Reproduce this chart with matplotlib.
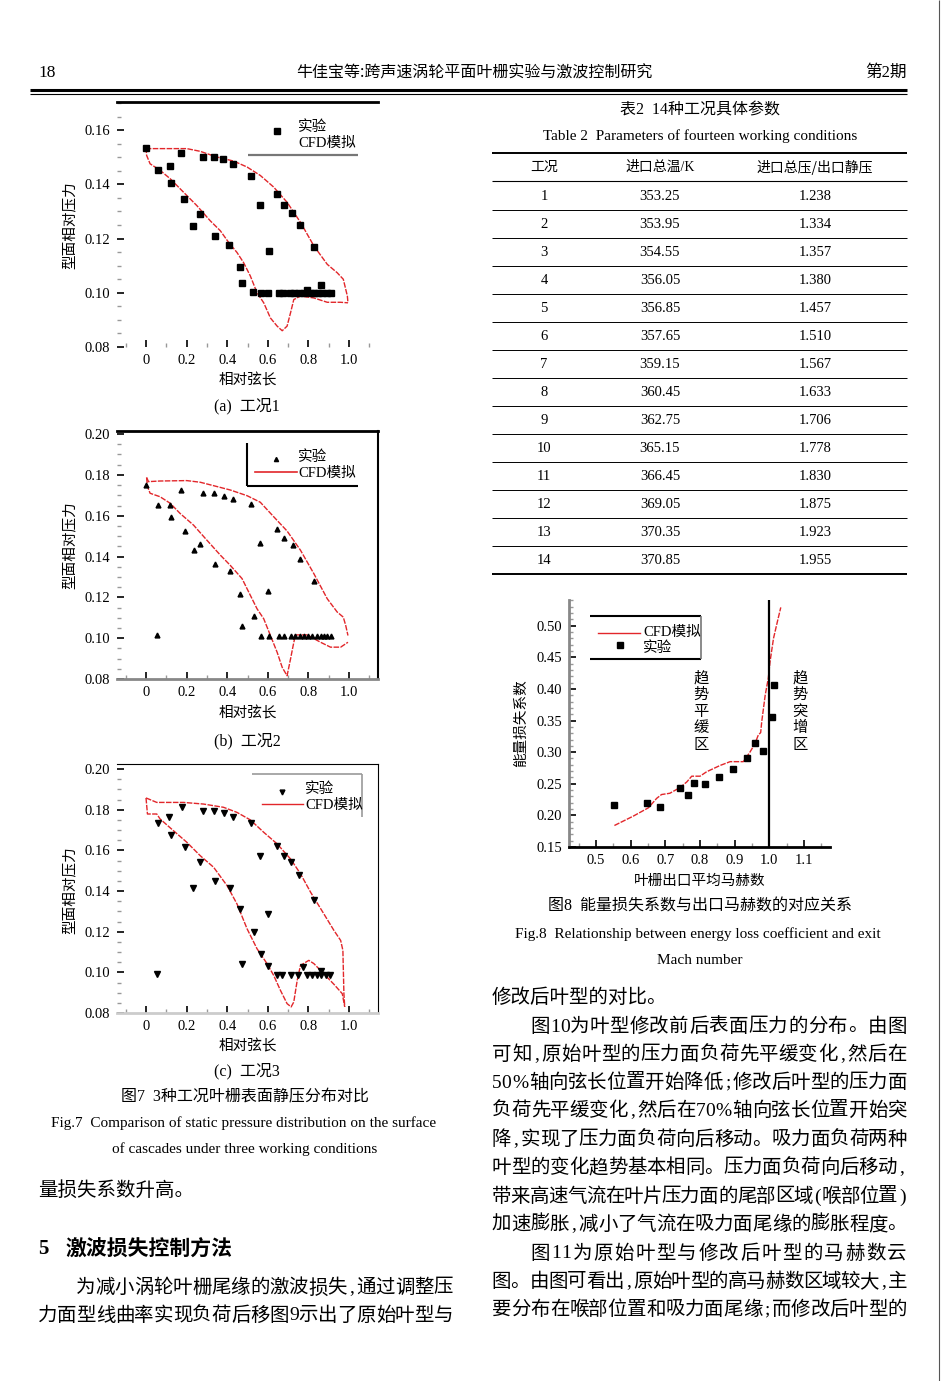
import matplotlib
matplotlib.use('Agg')
import matplotlib.pyplot as plt
from matplotlib.ticker import MultipleLocator

W, H = 941, 1381
SERIF = ['Liberation Serif', 'Noto Sans CJK SC']
CJK = ['Noto Sans CJK SC', 'Liberation Serif']
plt.rcParams['font.family'] = SERIF

# ---- 图7 (a) 工况1 ----
a_exp_x = [0.000, 0.061, 0.119, 0.124, 0.171, 0.189, 0.231, 0.267, 0.283, 0.333, 0.338, 0.379,
           0.409, 0.427, 0.465, 0.473, 0.516, 0.529, 0.560, 0.605, 0.643, 0.679, 0.718, 0.758,
           0.830, 0.863, 0.794,
           0.568, 0.600, 0.656, 0.675, 0.708, 0.731, 0.755, 0.778, 0.811, 0.827, 0.847, 0.868, 0.890, 0.909]
a_exp_y = [0.1536, 0.1452, 0.1468, 0.1406, 0.1517, 0.1346, 0.1245, 0.1291, 0.1502, 0.1502, 0.1210, 0.1492,
           0.1177, 0.1476, 0.1094, 0.1036, 0.1432, 0.1004, 0.1324, 0.1153, 0.1363, 0.1324, 0.1294, 0.1250,
           0.1168, 0.1030, 0.1012,
           0.0998, 0.0998, 0.0998, 0.0998, 0.0998, 0.0998, 0.0998, 0.0998, 0.0998, 0.0998, 0.0998, 0.0998, 0.0998, 0.0998]
a_up_x = [0.000, 0.012, 0.201, 0.267, 0.349, 0.432, 0.498, 0.563, 0.629, 0.695, 0.761, 0.827, 0.893,
          0.942, 0.972, 0.984, 0.992, 0.995]
a_up_y = [0.1536, 0.1532, 0.1532, 0.1522, 0.1501, 0.1486, 0.1464, 0.1433, 0.1390, 0.1334, 0.1260, 0.1173,
          0.1105, 0.1074, 0.1050, 0.1013, 0.0988, 0.0963]
a_lo_x = [0.000, 0.003, 0.020, 0.069, 0.119, 0.185, 0.250, 0.316, 0.366, 0.407, 0.448, 0.481, 0.514,
          0.547, 0.580, 0.613, 0.646, 0.671, 0.695, 0.712, 0.728, 0.761, 0.827, 0.893, 0.959, 0.995]
a_lo_y = [0.1536, 0.1507, 0.1476, 0.1452, 0.1421, 0.1371, 0.1322, 0.1266, 0.1229, 0.1186, 0.1149, 0.1111,
          0.1062, 0.1000, 0.0963, 0.0907, 0.0877, 0.0860, 0.0877, 0.0926, 0.0975, 0.0988, 0.0981, 0.0965,
          0.0965, 0.0963]
a_yticks = [0.08, 0.10, 0.12, 0.14, 0.16]

# ---- 图7 (b) 工况2 ----
b_exp_x = [0.000, 0.058, 0.054, 0.119, 0.125, 0.173, 0.191, 0.234, 0.267, 0.283, 0.333, 0.341, 0.382,
           0.415, 0.427, 0.465, 0.473, 0.517, 0.534, 0.560, 0.601, 0.643, 0.682, 0.722, 0.758, 0.830,
           0.568, 0.605, 0.654, 0.679, 0.712, 0.736, 0.758, 0.778, 0.798, 0.819, 0.840, 0.860, 0.876, 0.893, 0.909]
b_exp_y = [0.1748, 0.1651, 0.1018, 0.1651, 0.1592, 0.1726, 0.1525, 0.1434, 0.1461, 0.1710, 0.1713, 0.1361,
           0.1698, 0.1330, 0.1682, 0.1218, 0.1062, 0.1657, 0.1107, 0.1467, 0.1230, 0.1533, 0.1489, 0.1456,
           0.1390, 0.1279,
           0.1013, 0.1013, 0.1013, 0.1013, 0.1013, 0.1013, 0.1013, 0.1013, 0.1013, 0.1013, 0.1013, 0.1013,
           0.1013, 0.1013, 0.1013]
b_up_x = [0.003, 0.012, 0.069, 0.201, 0.267, 0.349, 0.415, 0.498, 0.563, 0.629, 0.695, 0.761, 0.827,
          0.893, 0.942, 0.972, 0.984, 0.995]
b_up_y = [0.1787, 0.1767, 0.1770, 0.1772, 0.1764, 0.1743, 0.1726, 0.1698, 0.1666, 0.1595, 0.1525, 0.1431,
          0.1316, 0.1193, 0.1128, 0.1103, 0.1062, 0.1013]
b_lo_x = [0.003, 0.007, 0.020, 0.069, 0.119, 0.168, 0.234, 0.300, 0.366, 0.415, 0.473, 0.514, 0.547,
          0.580, 0.613, 0.646, 0.671, 0.695, 0.712, 0.725, 0.736, 0.794, 0.860, 0.909, 0.959, 0.995]
b_lo_y = [0.1787, 0.1743, 0.1710, 0.1693, 0.1661, 0.1611, 0.1554, 0.1480, 0.1407, 0.1357, 0.1292, 0.1210,
          0.1144, 0.1095, 0.1013, 0.0931, 0.0857, 0.0816, 0.0898, 0.0964, 0.1016, 0.1016, 0.0980, 0.0956,
          0.0956, 0.0980]

# ---- 图7 (c) 工况3 ----
c_exp_x = [0.058, 0.056, 0.115, 0.124, 0.175, 0.191, 0.231, 0.267, 0.283, 0.333, 0.338, 0.382, 0.412,
           0.428, 0.465, 0.473, 0.519, 0.530, 0.560, 0.568, 0.600, 0.600, 0.643, 0.679, 0.715, 0.755,
           0.830, 0.773, 0.860,
           0.646, 0.671, 0.712, 0.748, 0.794, 0.819, 0.843, 0.863, 0.885, 0.906]
c_exp_y = [0.1735, 0.0993, 0.1766, 0.1678, 0.1815, 0.1615, 0.1414, 0.1545, 0.1795, 0.1795, 0.1448, 0.1782,
           0.1416, 0.1766, 0.1313, 0.1043, 0.1736, 0.1198, 0.1574, 0.1092, 0.1285, 0.1029, 0.1624, 0.1571,
           0.1542, 0.1481, 0.1357, 0.1026, 0.1007,
           0.0985, 0.0985, 0.0985, 0.0985, 0.0985, 0.0985, 0.0985, 0.0985, 0.0985, 0.0985]
c_up_x = [0.000, 0.053, 0.185, 0.283, 0.382, 0.448, 0.514, 0.580, 0.646, 0.712, 0.761, 0.811, 0.876,
          0.926, 0.959, 0.970, 0.975, 0.979]
c_up_y = [0.1858, 0.1836, 0.1836, 0.1828, 0.1812, 0.1787, 0.1750, 0.1689, 0.1632, 0.1558, 0.1485, 0.1394,
          0.1288, 0.1206, 0.1157, 0.1108, 0.0895, 0.0830]
c_lo_x = [0.000, 0.007, 0.053, 0.069, 0.135, 0.201, 0.267, 0.333, 0.399, 0.448, 0.498, 0.547, 0.596,
          0.629, 0.662, 0.695, 0.715, 0.728, 0.745, 0.761, 0.802, 0.827, 0.876, 0.926, 0.967, 0.979]
c_lo_y = [0.1858, 0.1779, 0.1779, 0.1755, 0.1697, 0.1640, 0.1574, 0.1517, 0.1427, 0.1337, 0.1214, 0.1116,
          0.1043, 0.0985, 0.0912, 0.0846, 0.0830, 0.0854, 0.0961, 0.1034, 0.1059, 0.1043, 0.0993, 0.0941,
          0.0895, 0.0830]
bc_yticks = [0.08, 0.10, 0.12, 0.14, 0.16, 0.18, 0.20]

# ---- 图8 ----
ma_exp = [0.553, 0.646, 0.685, 0.742, 0.766, 0.783, 0.813, 0.856, 0.896, 0.935, 0.960, 0.983, 1.007, 1.013]
loss_exp = [0.217, 0.220, 0.214, 0.244, 0.233, 0.252, 0.250, 0.260, 0.274, 0.290, 0.314, 0.302, 0.356, 0.406]
ma_cfd = [0.553, 0.608, 0.651, 0.675, 0.689, 0.713, 0.742, 0.762, 0.776, 0.800, 0.819, 0.858, 0.887,
          0.925, 0.944, 0.959, 0.968, 0.975, 0.978, 0.983, 0.988, 0.997, 1.002, 1.012, 1.023, 1.033]
loss_cfd = [0.184, 0.199, 0.212, 0.227, 0.233, 0.235, 0.244, 0.253, 0.262, 0.262, 0.269, 0.279, 0.285,
            0.285, 0.300, 0.314, 0.327, 0.331, 0.348, 0.369, 0.390, 0.417, 0.443, 0.480, 0.506, 0.529]

# ---- 表2 ----
cond_no = [str(i) for i in range(1, 15)]
inlet_temp = ['353.25', '353.95', '354.55', '356.05', '356.85', '357.65', '359.15',
              '360.45', '362.75', '365.15', '366.45', '369.05', '370.35', '370.85']
press_ratio = ['1.238', '1.334', '1.357', '1.380', '1.457', '1.510', '1.567',
               '1.633', '1.706', '1.778', '1.830', '1.875', '1.923', '1.955']

RED = '#e2262a'

fig = plt.figure(figsize=(W / 100, H / 100), dpi=100, facecolor='white')


def box(l, t, r, b):
    ax = fig.add_axes([l / W, 1 - b / H, (r - l) / W, (b - t) / H])
    ax.set_facecolor('none')
    return ax


def pressure_panel(ax, ylim, yticks, ex, ey, ux, uy, lx, ly, marker, ms):
    ax.plot(ux, uy, color=RED, lw=1.0, dashes=(4, 1))
    ax.plot(lx, ly, color=RED, lw=1.0, dashes=(4, 1))
    ax.plot(ex, ey, ls='none', marker=marker, ms=ms, color='black', mec='black')
    ax.set_xticks([0, 0.2, 0.4, 0.6, 0.8, 1.0])
    ax.set_xticklabels(['0', '0.2', '0.4', '0.6', '0.8', '1.0'])
    ax.set_yticks(yticks)
    ax.set_yticklabels([f'{v:.2f}' for v in yticks])
    ax.xaxis.set_minor_locator(MultipleLocator(0.1))
    ax.yaxis.set_minor_locator(MultipleLocator(0.005))
    ax.set_xlim(-0.143, 1.143)
    ax.set_ylim(*ylim)
    ax.tick_params(which='major', direction='in', length=5, width=1.2, labelsize=10.5, pad=5)
    ax.tick_params(which='minor', direction='in', length=3, width=1, color='#999999')
    for s in ax.spines.values():
        s.set_visible(False)


# (a)
axa = box(117, 102, 378, 347)
pressure_panel(axa, (0.08, 0.1704), a_yticks, a_exp_x, a_exp_y, a_up_x, a_up_y, a_lo_x, a_lo_y, 's', 4.2)
axa.spines['top'].set_visible(True)
axa.spines['top'].set_linewidth(2)

# (b)
axb = box(117, 431, 378, 679)
pressure_panel(axb, (0.08, 0.2015), bc_yticks, b_exp_x, b_exp_y, b_up_x, b_up_y, b_lo_x, b_lo_y, '^', 3.5)
axb.spines['top'].set_visible(True)
axb.spines['top'].set_linewidth(2)
axb.spines['right'].set_visible(True)
axb.spines['right'].set_linewidth(1.5)
axb.spines['bottom'].set_visible(True)
axb.spines['bottom'].set_color('#888888')
axb.spines['bottom'].set_linewidth(2)

# (c)
axc = box(117, 764, 378, 1013)
pressure_panel(axc, (0.08, 0.2025), bc_yticks, c_exp_x, c_exp_y, c_up_x, c_up_y, c_lo_x, c_lo_y, 'v', 3.8)
axc.spines['top'].set_visible(True)
axc.spines['right'].set_visible(True)
axc.spines['bottom'].set_visible(True)
axc.spines['bottom'].set_color('#cccccc')
axc.spines['bottom'].set_linewidth(2)

# 图8
ax8 = box(569, 600, 830, 847)
ax8.plot(ma_cfd, loss_cfd, color=RED, lw=1.0, dashes=(4, 1))
ax8.plot(ma_exp, loss_exp, ls='none', marker='s', ms=4.5, color='black')
ax8.axvline(1.0, color='black', lw=1.6)
ax8.set_xticks([0.5, 0.6, 0.7, 0.8, 0.9, 1.0, 1.1])
ax8.set_xticklabels(['0.5', '0.6', '0.7', '0.8', '0.9', '1.0', '1.1'])
ax8.set_yticks([0.15, 0.20, 0.25, 0.30, 0.35, 0.40, 0.45, 0.50])
ax8.set_yticklabels(['0.15', '0.20', '0.25', '0.30', '0.35', '0.40', '0.45', '0.50'])
ax8.xaxis.set_minor_locator(MultipleLocator(0.05))
ax8.yaxis.set_minor_locator(MultipleLocator(0.01))
ax8.set_xlim(0.422, 1.175)
ax8.set_ylim(0.15, 0.5407)
ax8.tick_params(which='major', direction='in', length=5, width=1.2, labelsize=10.5, pad=5)
ax8.tick_params(which='minor', direction='in', length=3, width=1, color='#999999')
ax8.spines['top'].set_visible(False)
ax8.spines['right'].set_visible(False)
ax8.spines['left'].set_color('#888888')
ax8.spines['left'].set_linewidth(2)
ax8.spines['bottom'].set_linewidth(2)

# page layer: text, table, legends
page = fig.add_axes([0, 0, 1, 1])
page.set_xlim(0, W)
page.set_ylim(H, 0)
page.axis('off')
page.set_zorder(10)
page.patch.set_visible(False)


def txt(x, y, s, size=11, ha='left', fam=SERIF, **kw):
    page.text(x, y, s, fontsize=size, ha=ha, va='center', family=fam, **kw)


def hline(y, x0, x1, lw=1, color='black'):
    page.plot([x0, x1], [y, y], color=color, lw=lw, solid_capstyle='butt')


def vline(x, y0, y1, lw=1, color='black'):
    page.plot([x, x], [y0, y1], color=color, lw=lw, solid_capstyle='butt')


def weight(c):
    if c == '%':
        return 0.9
    return 0.5 if ord(c) < 128 else 1.0


def body(s, x0, y, x1=None, size=14):
    if x1 is None:
        txt(x0, y, s, size=size)
        return
    w = [weight(c) for c in s]
    step = (x1 - x0) / sum(w)
    pos = x0
    for c, wc in zip(s, w):
        page.text(pos + wc * step / 2, y, c, fontsize=size, ha='center', va='center', family=SERIF)
        pos += wc * step


# header
txt(38, 73, '18', size=12.5)
txt(474, 73, '牛佳宝等:跨声速涡轮平面叶栅实验与激波控制研究', size=11.5, ha='center', fam=CJK)
txt(907, 73, '第2期', size=12, ha='right')
hline(89.5, 30, 907, lw=2.2)
hline(93.5, 30, 907, lw=0.8)
vline(939, 0, H, lw=0.8, color='#555555')

# panel labels
for yx, yc, cap, ytick in [(380, 406, '(a)  工况1', 225), (713, 741, '(b)  工况2', 545),
                           (1046, 1071, '(c)  工况3', 890)]:
    txt(248, yx, '相对弦长', size=10.5, ha='center', fam=CJK)
    txt(247, yc, cap, size=11.5, ha='center')
    page.text(70, ytick, '型面相对压力', fontsize=10.5, rotation=90, ha='center', va='center', family=CJK)

# legends of fig 7
page.plot([277], [131], 's', ms=4.2, color='black')
txt(298, 127, '实验', size=10.5)
txt(298, 143, 'CFD模拟', size=10.5)
hline(155, 248, 358, lw=1.6, color='#777777')

vline(247, 443, 486, lw=1.5)
hline(486, 247, 358, lw=1.5)
page.plot([276], [459], '^', ms=3, color='black')
page.plot([255, 297], [472, 472], color=RED, lw=1.2)
txt(298, 457, '实验', size=10.5)
txt(298, 473, 'CFD模拟', size=10.5)

hline(774, 252, 362, lw=1.2, color='#999999')
vline(362, 774, 817, lw=1.2, color='#999999')
page.plot([282], [792], 'v', ms=3.5, color='black')
page.plot([262, 303], [804, 804], color=RED, lw=1.0)
txt(305, 789, '实验', size=10.5)
txt(305, 805, 'CFD模拟', size=10.5)

# captions fig 7
txt(245, 1097, '图7  3种工况叶栅表面静压分布对比', size=11.5, ha='center')
txt(244, 1123, 'Fig.7  Comparison of static pressure distribution on the surface', size=11, ha='center')
txt(245, 1149, 'of cascades under three working conditions', size=11, ha='center')

# table 2
txt(700, 110, '表2  14种工况具体参数', size=11.5, ha='center')
txt(700, 136, 'Table 2  Parameters of fourteen working conditions', size=11, ha='center')
hline(153, 492, 907, lw=1.4)
txt(544, 167, '工况', size=10, ha='center', fam=CJK)
txt(660, 167, '进口总温/K', size=10, ha='center')
txt(815, 167, '进口总压/出口静压', size=10, ha='center', fam=CJK)
hline(181, 492, 907, lw=0.8)
for i in range(14):
    yy = 196 + 28 * i
    txt(544, yy, cond_no[i], size=10.5, ha='center')
    txt(660, yy, inlet_temp[i], size=10.5, ha='center')
    txt(815, yy, press_ratio[i], size=10.5, ha='center')
    if i < 13:
        hline(yy + 14, 492, 907, lw=0.7)
hline(574, 492, 907, lw=1.4)

# fig 8 labels and legend
page.text(521, 723, '能量损失系数', fontsize=10.5, rotation=90, ha='center', va='center', family=CJK)
txt(700, 881, '叶栅出口平均马赫数', size=10.5, ha='center', fam=CJK)
hline(616, 590, 701, lw=1.5)
hline(659, 590, 701, lw=1.5)
vline(701, 616, 659, lw=1.2, color='#777777')
page.plot([598, 640], [633, 633], color=RED, lw=1.0)
txt(643, 632, 'CFD模拟', size=10.5)
page.plot([620], [645], 's', ms=4.2, color='black')
txt(643, 648, '实验', size=10.5)
for k, ch in enumerate('趋势平缓区'):
    txt(701, 678 + 16.5 * k, ch, size=11, ha='center', fam=CJK)
for k, ch in enumerate('趋势突增区'):
    txt(800, 678 + 16.5 * k, ch, size=11, ha='center', fam=CJK)
txt(700, 907, '图8  能量损失系数与出口马赫数的对应关系', size=11.5, ha='center')
txt(698, 934, 'Fig.8  Relationship between energy loss coefficient and exit', size=11, ha='center')
txt(700, 960, 'Mach number', size=11, ha='center')

# body text right column
R0, R1 = 492, 907
body('修改后叶型的对比。', R0, 998)
body('图10为叶型修改前后表面压力的分布。由图', 530, 1027, R1)
body('可知,原始叶型的压力面负荷先平缓变化,然后在', R0, 1055, R1)
body('50%轴向弦长位置开始降低;修改后叶型的压力面', R0, 1083, R1)
body('负荷先平缓变化,然后在70%轴向弦长位置开始突', R0, 1111, R1)
body('降,实现了压力面负荷向后移动。吸力面负荷两种', R0, 1140, R1)
body('叶型的变化趋势基本相同。压力面负荷向后移动,', R0, 1168, R1)
body('带来高速气流在叶片压力面的尾部区域(喉部位置)', R0, 1197, R1)
body('加速膨胀,减小了气流在吸力面尾缘的膨胀程度。', R0, 1225, R1)
body('图11为原始叶型与修改后叶型的马赫数云', 530, 1254, R1)
body('图。由图可看出,原始叶型的高马赫数区域较大,主', R0, 1282, R1)
body('要分布在喉部位置和吸力面尾缘;而修改后叶型的', R0, 1310, R1)

# body text left column
L0, L1 = 38, 453
body('量损失系数升高。', L0, 1190)
txt(38, 1249, '5', size=15, weight='bold')
txt(66, 1249, '激波损失控制方法', size=15, fam=CJK, weight='bold')
body('为减小涡轮叶栅尾缘的激波损失,通过调整压', 76, 1288, L1)
body('力面型线曲率实现负荷后移图9示出了原始叶型与', L0, 1316, L1)

fig.savefig('out.png', dpi=100, facecolor='white')
